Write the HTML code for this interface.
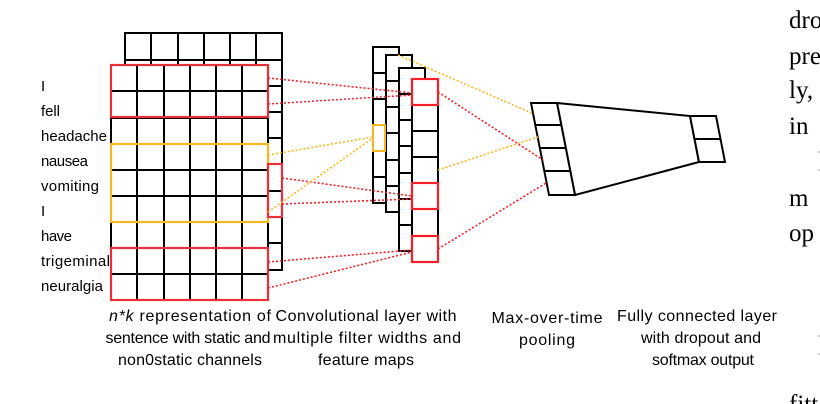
<!DOCTYPE html>
<html><head><meta charset="utf-8"><style>
html,body{margin:0;padding:0;background:#fff;}
svg{display:block}
text{font-family:"Liberation Sans",sans-serif;fill:#000}
.s{font-family:"Liberation Serif",serif;font-size:25px}
</style></head><body>
<svg width="820" height="404" viewBox="0 0 820 404" xmlns="http://www.w3.org/2000/svg">
<g stroke="#000" stroke-width="2" fill="#fff">
<rect x="125" y="33" width="157" height="237"/>
<path d="M151 33V65M178 33V65M204 33V65M230 33V65M256 33V65M125 60H282M268 86H282M268 112H282M268 138H282M268 164H282M268 191H282M268 217H282M268 243H282"/>
<rect x="111" y="65" width="157" height="235"/>
<path d="M137 65V300M164 65V300M190 65V300M216 65V300M242 65V300M111 91H268M111 118H268M111 144H268M111 170H268M111 196H268M111 222H268M111 248H268M111 274H268"/>
</g>
<g fill="none" stroke-width="2.2">
<rect x="111" y="65" width="157" height="52" stroke="#e8303a"/>
<rect x="111" y="144" width="157" height="78" stroke="#f5b722"/>
<rect x="111" y="248" width="157" height="52" stroke="#e8303a"/>
<rect x="268" y="164" width="14" height="53" stroke="#e8303a"/>
</g>
<g stroke="#000" stroke-width="2" fill="#fff">
<rect x="373" y="47" width="26" height="156"/>
<path d="M373 73H386M373 99H386M373 125H386M373 151H386M373 177H386"/>
<rect x="386" y="55" width="26" height="157"/>
<path d="M386 81H399M386 107H399M386 133H399M386 160H399M386 186H399"/>
<rect x="399" y="68" width="26" height="183"/>
<path d="M399 94H412M399 120H412M399 146H412M399 173H412M399 199H412M399 225H412"/>
<rect x="412" y="79" width="26" height="183"/>
<path d="M412 105H438M412 131H438M412 157H438M412 183H438M412 209H438M412 236H438"/>
</g>
<rect x="373" y="125" width="12" height="26" fill="none" stroke="#f5b722" stroke-width="2"/>
<g fill="none" stroke="#f3202a" stroke-width="2.2">
<rect x="412" y="79" width="26" height="26"/>
<rect x="412" y="183" width="26" height="26"/>
<rect x="412" y="236" width="26" height="26"/>
</g>
<g stroke="#000" stroke-width="2" fill="#fff">
<path d="M557 103L690 116L699 162L575 195Z"/>
<path d="M531 103H557L575 195H549Z"/>
<path d="M535 125H561M540 148H566M544 171H570"/>
<path d="M690 116H716L725 162H699Z"/>
<path d="M695 139H721"/>
</g>
<g fill="none" stroke-width="1.6" stroke-dasharray="2,2">
<g stroke="#f3202a">
<path d="M268 78L412 93M268 104L412 95"/>
<path d="M282 178L412 196M282 204L412 199"/>
<path d="M268 262L412 250M268 288L412 252"/>
<path d="M438 92L543 160M438 249L546 183"/>
</g>
<g stroke="#f5b722">
<path d="M268 155L373 137M268 212L373 138"/>
<path d="M398 55L534 114M438 170L538 137"/>
</g>
</g>
<g font-size="15">
<text x="41" y="91">I</text>
<text x="41" y="116" textLength="19">fell</text>
<text x="41" y="141" textLength="66">headache</text>
<text x="41" y="166" textLength="47">nausea</text>
<text x="41" y="191" textLength="58">vomiting</text>
<text x="41" y="216">I</text>
<text x="41" y="241" textLength="31">have</text>
<text x="41" y="266" textLength="69">trigeminal</text>
<text x="41" y="291" textLength="62">neuralgia</text>
</g>
<g font-size="16" text-anchor="middle">
<text x="190" y="321" textLength="162"><tspan font-style="italic">n*k</tspan> representation of</text>
<text x="188" y="343" textLength="165">sentence with static and</text>
<text x="190" y="365" textLength="144">non0static channels</text>
<text x="366" y="321" textLength="181">Convolutional layer with</text>
<text x="367" y="343" textLength="188">multiple filter widths and</text>
<text x="366" y="365" textLength="96">feature maps</text>
<text x="547" y="323" textLength="111">Max-over-time</text>
<text x="547" y="345" textLength="56">pooling</text>
<text x="697" y="321" textLength="160">Fully connected layer</text>
<text x="701" y="343" textLength="120">with dropout and</text>
<text x="703" y="365" textLength="102">softmax output</text>
</g>
<g>
<text class="s" x="789" y="28">dro</text>
<text class="s" x="789" y="64">pre</text>
<text class="s" x="789" y="98">ly,</text>
<text class="s" x="789" y="134">in</text>
<text class="s" x="789" y="206">m</text>
<text class="s" x="789" y="241">op</text>
<text class="s" x="789" y="412">fitt</text>
</g>
<g stroke="#999" stroke-width="1">
<path d="M818 152H820M818 170H820M818 336H820M818 354H820"/>
</g>
</svg>
</body></html>
